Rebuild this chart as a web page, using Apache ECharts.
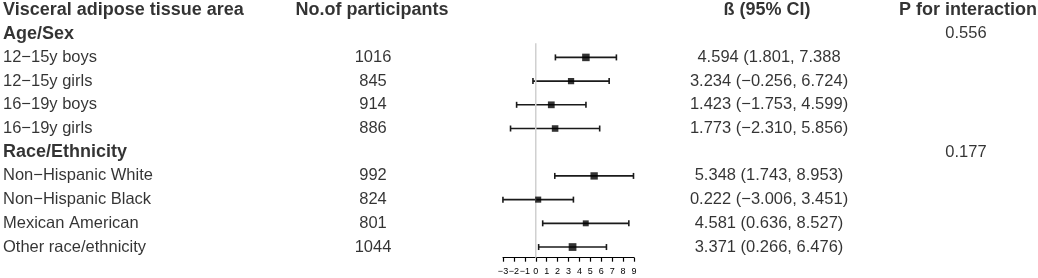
<!DOCTYPE html>
<html>
<head>
<meta charset="utf-8">
<script src="https://cdn.jsdelivr.net/npm/echarts@6/dist/echarts.min.js"></script>
<style>
  html, body { margin: 0; padding: 0; background: #fff; }
  #chart { width: 1038px; height: 278px; }
</style>
</head>
<body>
<div id="chart"></div>
<script>
// table data
const headers = ["Visceral adipose tissue area", "No.of participants", "ß (95% CI)", "P for interaction"];
const groups = ["Age/Sex", "Race/Ethnicity"];
const pInteraction = ["0.556", "0.177"];
const subgroups = [
    ["12−15y boys", "12−15y girls", "16−19y boys", "16−19y girls"],
    ["Non−Hispanic White", "Non−Hispanic Black", "Mexican American", "Other race/ethnicity"]
];
const participants = [1016, 845, 914, 886, 992, 824, 801, 1044];
const beta = [4.594, 3.234, 1.423, 1.773, 5.348, 0.222, 4.581, 3.371];
const lower = [1.801, -0.256, -1.753, -2.310, 1.743, -3.006, 0.636, 0.266];
const upper = [7.388, 6.724, 4.599, 5.856, 8.953, 3.451, 8.527, 6.476];
// the source table prints the first interval without its closing bracket
const ciClose = [false, true, true, true, true, true, true, true];
const xTicks = [-3, -2, -1, 0, 1, 2, 3, 4, 5, 6, 7, 8, 9];

// column positions (pixels)
const COL_NAME = 3;
const COL_N = 373;
const COL_N_HEAD = 372;
const COL_CI = 769;
const COL_CI_HEAD = 767;
const COL_P = 966;
const COL_P_HEAD = 968;

const FONT = "'Liberation Sans', Arial, sans-serif";
const TOP = 10;
const ROW_MAX = 10.45;
const PLOT_H = 247.7;

const fmtNum = v => v.toFixed(3).replace("-", "−");

// build rows: header = 0, then groups and subgroups
let boldText = [];
let leftText = [];
let centerText = [];
let pointData = [];
let barData = [];

boldText.push([COL_NAME, 0, headers[0], "left"]);
boldText.push([COL_N_HEAD, 0, headers[1], "center"]);
boldText.push([COL_CI_HEAD, 0, headers[2], "center"]);
boldText.push([COL_P_HEAD, 0, headers[3], "center"]);

let row = 1;
let k = 0;
for (let g = 0; g < groups.length; g++) {
    boldText.push([COL_NAME, row, groups[g], "left"]);
    centerText.push([COL_P, row, pInteraction[g]]);
    row++;
    for (let s = 0; s < subgroups[g].length; s++) {
        leftText.push([COL_NAME, row, subgroups[g][s]]);
        centerText.push([COL_N, row, String(participants[k])]);
        centerText.push([COL_CI, row,
            fmtNum(beta[k]) + " (" + fmtNum(lower[k]) + ", " + fmtNum(upper[k]) + (ciClose[k] ? ")" : "")]);
        pointData.push([beta[k], row, participants[k]]);
        barData.push([lower[k], upper[k], row]);
        row++;
        k++;
    }
}

const chart = echarts.init(document.getElementById("chart"), null, { renderer: "canvas" });

const textSeries = (data, weight, align) => ({
    type: "scatter",
    xAxisIndex: 1,
    yAxisIndex: 1,
    symbolSize: 0,
    silent: true,
    data: data,
    label: {
        show: true,
        position: "inside",
        formatter: p => p.data[2],
        color: "#000",
        fontFamily: FONT,
        fontSize: weight === "bold" ? 18 : 16.5,
        fontWeight: weight,
        align: align,
        verticalAlign: "middle"
    }
});

const option = {
    animation: false,
    grid: [
        { left: 503, width: 131, top: TOP, height: PLOT_H },
        { left: 0, right: 0, top: TOP, height: PLOT_H }
    ],
    xAxis: [
        {
            type: "value",
            gridIndex: 0,
            position: "bottom",
            min: xTicks[0],
            max: xTicks[xTicks.length - 1],
            interval: 1,
            axisLine: { show: true, onZero: false, lineStyle: { color: "#000", width: 1.2 } },
            axisTick: { show: true, length: 4, lineStyle: { color: "#000", width: 1.2 } },
            axisLabel: {
                margin: 9,
                fontSize: 9,
                color: "#000",
                fontFamily: FONT,
                showMinLabel: true,
                showMaxLabel: true,
                hideOverlap: false,
                formatter: v => String(v).replace("-", "−")
            },
            splitLine: { show: false }
        },
        { type: "value", gridIndex: 1, min: 0, max: 1038, show: false }
    ],
    yAxis: [
        { type: "value", gridIndex: 0, min: 0, max: ROW_MAX, inverse: true, show: false },
        { type: "value", gridIndex: 1, min: 0, max: ROW_MAX, inverse: true, show: false }
    ],
    series: [
        {
            // reference line at zero
            type: "line",
            xAxisIndex: 0,
            yAxisIndex: 0,
            data: [[0, 1.4], [0, ROW_MAX]],
            symbol: "none",
            silent: true,
            lineStyle: { color: "#d0d0d0", width: 1.5 }
        },
        {
            type: "custom",
            xAxisIndex: 0,
            yAxisIndex: 0,
            data: barData,
            encode: { x: [0, 1], y: 2 },
            renderItem: (params, api) => {
                const a = api.coord([api.value(0), api.value(2)]);
                const b = api.coord([api.value(1), api.value(2)]);
                const cap = 3;
                const style = { stroke: "#1a1a1a", lineWidth: 1.6 };
                return {
                    type: "group",
                    children: [
                        { type: "line", shape: { x1: a[0], y1: a[1], x2: b[0], y2: b[1] }, style },
                        { type: "line", shape: { x1: a[0], y1: a[1] - cap, x2: a[0], y2: a[1] + cap }, style },
                        { type: "line", shape: { x1: b[0], y1: b[1] - cap, x2: b[0], y2: b[1] + cap }, style }
                    ]
                };
            }
        },
        {
            type: "scatter",
            xAxisIndex: 0,
            yAxisIndex: 0,
            data: pointData,
            symbol: "rect",
            symbolSize: d => d[2] / 135,
            itemStyle: { color: "#000" },
            z: 5
        },
        textSeries(boldText.filter(d => d[3] === "left"), "bold", "left"),
        textSeries(boldText.filter(d => d[3] === "center"), "bold", "center"),
        textSeries(leftText, "normal", "left"),
        textSeries(centerText, "normal", "center")
    ]
};

chart.setOption(option);
</script>
</body>
</html>
